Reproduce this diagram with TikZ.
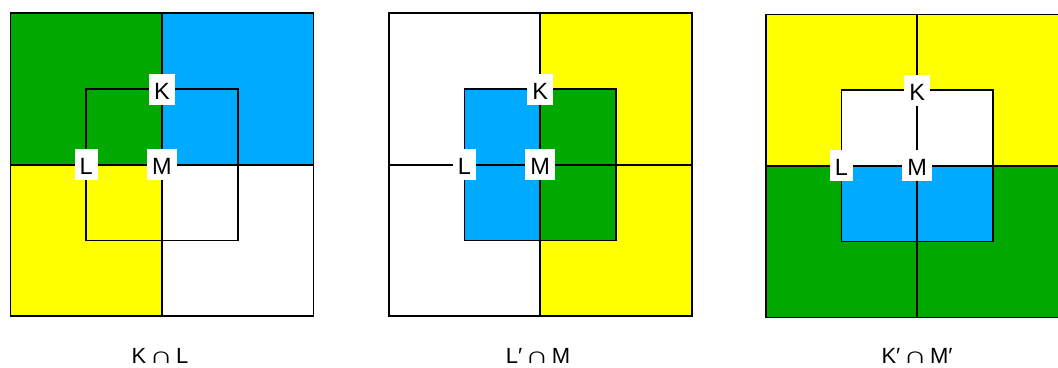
\documentclass[tikz,border=0pt]{standalone}
\usepackage{fontspec}
\setmainfont{Liberation Sans}
\definecolor{vgreen}{RGB}{0,168,0}
\definecolor{vblue}{RGB}{0,170,255}
\definecolor{vyellow}{RGB}{255,255,0}
\tikzset{
  frame/.style={draw=black, line width=1.6pt},
  tag/.style={fill=white, font=\fontsize{23.5}{24}\selectfont,
    inner xsep=5pt, inner ysep=3.5pt, text height=22pt, text depth=2pt},
  caption/.style={font=\fontsize{22}{24}\selectfont, anchor=base, inner sep=0pt}
}
% a wide, low intersection sign for the captions
\newcommand\capsign{\hspace{3pt}\scalebox{1.5}[1.05]{∩}\hspace{3pt}}
% fill the four quadrants of a square of half size #1 (TL, TR, BL, BR)
\newcommand\quadfill[5]{%
  \fill[#2] (-#1,0) rectangle (0,#1);
  \fill[#3] (0,0) rectangle (#1,#1);
  \fill[#4] (-#1,-#1) rectangle (0,0);
  \fill[#5] (0,-#1) rectangle (#1,0);
}
% outer square, inner square and the two middle lines
\newcommand\panelframe{%
  \draw[frame] (-151.5,-151.5) rectangle (151.5,151.5);
  \draw[frame] (-75.75,-75.75) rectangle (75.75,75.75);
  \draw[frame] (0,-151.5) -- (0,151.5);
  \draw[frame] (-151.5,0) -- (151.5,0);
}
\begin{document}
\begin{tikzpicture}[x=1pt,y=1pt]
  \clip (0,0) rectangle (1058,367);
  \fill[white] (0,0) rectangle (1058,367);

  % K intersect L
  \begin{scope}[shift={(162,202.2)}]
    \quadfill{151.5}{vgreen}{vblue}{vyellow}{white}
    \panelframe
    \node[tag] (K1) at (0,75.75) {K};
    \node[tag] (L1) at (-75.75,0) {L};
    \node[tag] (M1) at (0,0) {M};
  \end{scope}

  % L' intersect M
  \begin{scope}[shift={(540.2,202.2)}]
    \quadfill{151.5}{white}{vyellow}{white}{vyellow}
    \quadfill{75.75}{vblue}{vgreen}{vblue}{vgreen}
    \panelframe
    \node[tag] (K2) at (0,75.75) {K};
    \node[tag] (L2) at (-75.75,0) {L};
    \node[tag] (M2) at (0,0) {M};
  \end{scope}

  % K' intersect M'
  \begin{scope}[shift={(917.2,201.15)}]
    \quadfill{151.5}{vyellow}{vyellow}{vgreen}{vgreen}
    \quadfill{75.75}{white}{white}{vblue}{vblue}
    \panelframe
    \node[tag] (K3) at (0,75.75) {K};
    \node[tag] (L3) at (-75.75,0) {L};
    \node[tag] (M3) at (0,0) {M};
  \end{scope}

  \node[caption] (c1) at (160,4) {K\capsign L};
  \node[caption] (c2) at (538,4) {L′\capsign M};
  \node[caption] (c3) at (917,4) {K′\capsign M′};
\end{tikzpicture}
\end{document}
